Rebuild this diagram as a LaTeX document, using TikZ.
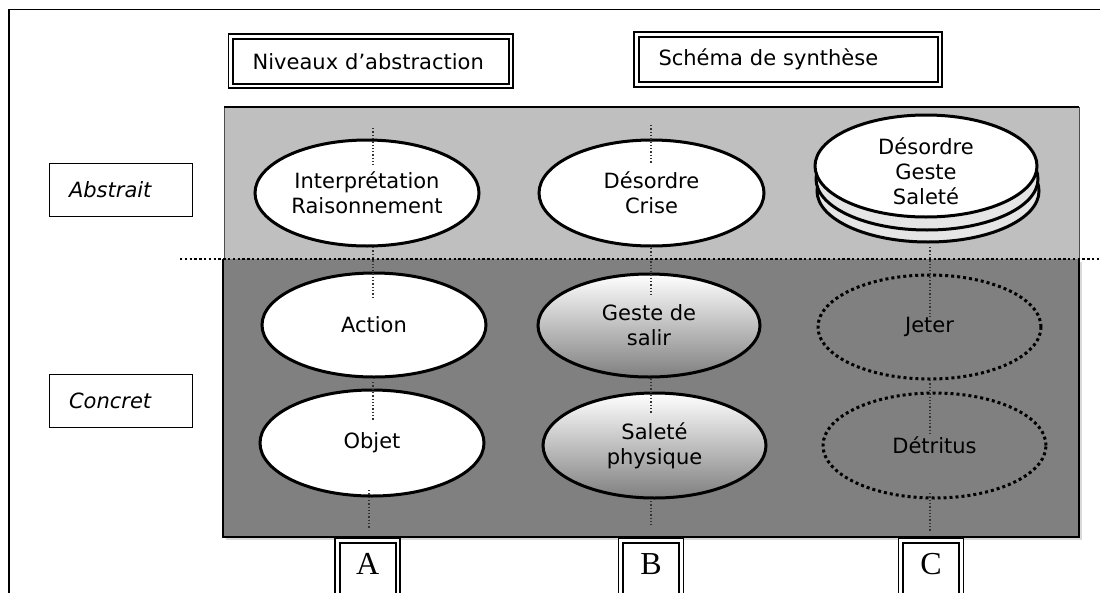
\documentclass[tikz,border=0pt]{standalone}
\usepackage{fontspec}
\setmainfont{DejaVu Sans}
\newfontfamily\letterfont{Liberation Serif}
\usetikzlibrary{shapes.geometric,calc}
\newcommand\txtsize{\fontsize{21}{25}\selectfont}
\begin{document}
\begin{tikzpicture}[x=1pt,y=-1pt,
  titlebox/.style={draw, line width=1.8pt, double=white, double distance=2.8pt,
    inner xsep=22pt, inner ysep=0pt, align=left, font=\txtsize},
  levelbox/.style={draw, line width=1.6pt, fill=white, minimum width=143pt,
    minimum height=53pt, text width=104pt, inner xsep=19.5pt, align=left,
    font=\txtsize\itshape},
  letterbox/.style={draw, line width=1.8pt, double=white, double distance=2.8pt,
    minimum width=60.5pt, minimum height=60pt, text height=22pt, text depth=14pt,
    inner sep=0pt, font=\letterfont\fontsize{32}{32}\selectfont},
  oval/.style={ellipse, draw, line width=3pt, inner sep=0pt, outer sep=0pt,
    align=center, font=\txtsize},
  plain/.style={oval, fill=white},
  shaded/.style={oval, top color=white, bottom color=black!50},
  ghost/.style={oval, dash pattern=on 3pt off 3pt},
  layer/.style={oval, fill=black!10},
  link/.style={draw=black!80, line width=1.3pt, dash pattern=on 1.3pt off 2pt},
]
\useasboundingbox (0,0) rectangle (1100,592);
\clip (0,0) rectangle (1100,592);
\fill[white] (0,0) rectangle (1100,592);

% page frame
\draw[line width=1.5pt] (9,9.5) rectangle (1120,620);

% headings
\node[titlebox, minimum width=280.3pt, minimum height=49.5pt, text width=236.3pt]
  (niveaux) at (370.85,61.25) {\mbox{Niveaux d’abstraction}};
\node[titlebox, minimum width=303.5pt, minimum height=50pt, text width=259.5pt]
  (schema) at (788.25,59.5) {\mbox{Schéma de synthèse}};

% level labels
\node[levelbox] (abstrait) at (121,190) {Abstrait};
\node[levelbox] (concret) at (121,401) {Concret};

% abstract band
\fill[black!25] (224,107) rectangle (1079,259);
\draw[line width=1pt, black!70] (224,259) -- (224,107) -- (1079,107) -- (1079,259);
\draw[line width=2.5pt] (224,107) -- (1079,107);
% concrete band, with a faint drop shadow
\fill[black!15] (226,262) rectangle (1082,540);
\fill[black!50] (223,259) rectangle (1079,537);
\draw[line width=1.2pt] (223,259) -- (223,537);
\draw[line width=2pt] (222,537) -- (1079,537) -- (1079,259);
% boundary between the two levels
\draw[line width=2.4pt, dash pattern=on 2.4pt off 2.4pt] (180,259) -- (1100,259);

% column A
\node[plain, minimum width=224pt, minimum height=106pt] (A1) at (367,193)
  {Interprétation\\Raisonnement};
\node[plain, minimum width=224pt, minimum height=104pt] (A2) at (374,325) {Action};
\node[plain, minimum width=224pt, minimum height=106pt] (A3) at (372,443) {Objet};

% column B
\node[plain, minimum width=225pt, minimum height=106pt] (B1) at (651.5,193)
  {Désordre\\Crise};
\node[shaded, minimum width=222pt, minimum height=103pt] (B2) at (649,325.5)
  {Geste de\\salir};
\node[shaded, minimum width=223pt, minimum height=105pt] (B3) at (654.5,445.5)
  {Saleté\\physique};

% column C: stacked synthesis disc
\node[layer, minimum width=222pt, minimum height=102pt] (C1c) at (928,191) {};
\node[layer, minimum width=222pt, minimum height=102pt] (C1b) at (927,179) {};
\node[plain, minimum width=222pt, minimum height=102pt] (C1) at (926,166) {};
\node[align=center, font=\txtsize, inner sep=0pt] (C1text) at (926,171)
  {Désordre\\Geste\\Saleté};
\node[ghost, minimum width=223pt, minimum height=104pt] (C2) at (929.5,327) {Jeter};
\node[ghost, minimum width=223pt, minimum height=105pt] (C3) at (934.5,445.5) {Détritus};

% dotted links along the columns
\coordinate (Atop) at (373,128);
\coordinate (Abot) at (369,528);
\draw[link] (Atop) -- ($(A1.north)+(6,25)$);
\draw[link] ($(A1.south)+(6,1)$) -- ($(A2.north)+(-1,25)$);
\draw[link] ($(A2.south)+(-1,5)$) -- ($(A3.north)+(1,30)$);
\draw[link] ($(A3.south)+(-3,-6)$) -- (Abot);

\coordinate (Btop) at (651,125);
\coordinate (Bbot) at (651,527);
\draw[link] (Btop) -- ($(B1.north)+(-0.5,23)$);
\draw[link] ($(B1.south)+(-0.5,2)$) -- ($(B2.north)+(2,21)$);
\draw[link] ($(B2.south)+(2,-2)$) -- ($(B3.north)+(-3.5,20)$);
\draw[link] ($(B3.south)+(-3.5,3)$) -- (Bbot);

\coordinate (Cbot) at (930,532);
\draw[link] ($(C1c.south)+(2,5)$) -- ($(C2.north)+(0.5,42)$);
\draw[link] ($(C2.south)+(0.5,1)$) -- ($(C3.north)+(-4.5,40)$);
\draw[link] ($(C3.south)+(-4.5,-5)$) -- (Cbot);

% column letters
\node[letterbox] (colA) at (367.75,570.5) {A};
\node[letterbox] (colB) at (651,570.5) {B};
\node[letterbox] (colC) at (931,570.5) {C};
\end{tikzpicture}
\end{document}
